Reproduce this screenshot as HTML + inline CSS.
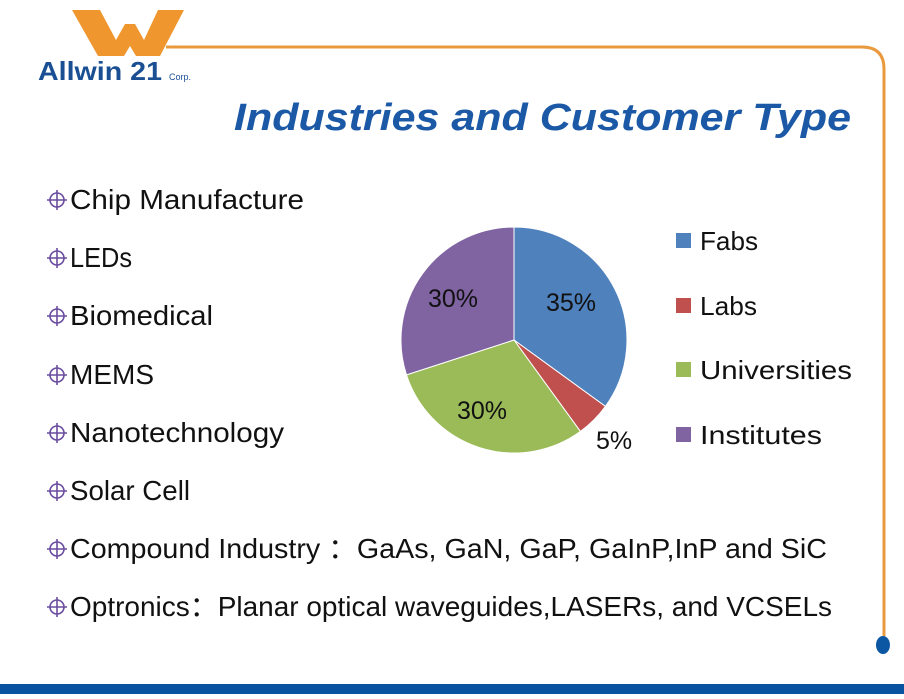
<!DOCTYPE html>
<html><head><meta charset="utf-8"><style>
body{margin:0;width:904px;height:694px;overflow:hidden;background:#fff;}
svg text{font-family:"Liberation Sans","Noto Sans CJK SC",sans-serif;}
</style></head><body>
<svg width="904" height="694" viewBox="0 0 904 694" xmlns="http://www.w3.org/2000/svg">
<polygon points="72,10 100,10 116,40 125,24 135,24 144,40 158,10 184,10 160,56 136,56 130,46 124,56 98,56" fill="#f0962e"/>
<text x="38" y="80" font-size="26" font-weight="bold" fill="#1b4f94" textLength="124" lengthAdjust="spacingAndGlyphs">Allwin 21</text>
<text x="169" y="80" font-size="9" fill="#1b4f94">Corp.</text>
<path d="M166,47 H862 Q884,47 884,69 V636" fill="none" stroke="#ea9a3e" stroke-width="3"/>
<ellipse cx="883" cy="645" rx="7" ry="9" fill="#0b57a4"/>
<rect x="0" y="684" width="904" height="10" fill="#0a53a0"/>
<text x="234" y="130" font-size="38" font-weight="bold" font-style="italic" fill="#1b58a6" textLength="617" lengthAdjust="spacingAndGlyphs">Industries and Customer Type</text>
<g font-size="28" fill="#111">
<text x="70" y="209" textLength="234" lengthAdjust="spacingAndGlyphs">Chip Manufacture</text>
<text x="70" y="267" textLength="62" lengthAdjust="spacingAndGlyphs">LEDs</text>
<text x="70" y="325" textLength="143" lengthAdjust="spacingAndGlyphs">Biomedical</text>
<text x="70" y="384" textLength="84" lengthAdjust="spacingAndGlyphs">MEMS</text>
<text x="70" y="442" textLength="214" lengthAdjust="spacingAndGlyphs">Nanotechnology</text>
<text x="70" y="500" textLength="120" lengthAdjust="spacingAndGlyphs">Solar Cell</text>
<text x="70" y="558" textLength="757" lengthAdjust="spacingAndGlyphs">Compound Industry ：GaAs, GaN, GaP, GaInP,InP and SiC</text>
<text x="70" y="616" textLength="762" lengthAdjust="spacingAndGlyphs">Optronics：Planar optical waveguides,LASERs, and VCSELs</text>
</g>
<g fill="none" stroke="#6a4ca0" stroke-width="1.6">
<g id="b"><circle cx="57" cy="200" r="7"/><line x1="47" y1="200" x2="67" y2="200"/><line x1="57" y1="190" x2="57" y2="210"/></g>
<use href="#b" y="58"/><use href="#b" y="116"/><use href="#b" y="175"/><use href="#b" y="233"/><use href="#b" y="291"/><use href="#b" y="349"/><use href="#b" y="407"/>
</g>
<g stroke="#fff" stroke-width="1">
<path d="M514,340 L514,227 A113,113 0 0 1 605.4,406.4 Z" fill="#4f81bd"/>
<path d="M514,340 L605.4,406.4 A113,113 0 0 1 580.4,431.4 Z" fill="#c0504d"/>
<path d="M514,340 L580.4,431.4 A113,113 0 0 1 406.5,374.9 Z" fill="#9bbb59"/>
<path d="M514,340 L406.5,374.9 A113,113 0 0 1 514,227 Z" fill="#8064a2"/>
</g>
<g font-size="25" fill="#111">
<text x="546" y="311">35%</text>
<text x="428" y="307">30%</text>
<text x="457" y="419">30%</text>
<text x="596" y="449">5%</text>
</g>
<rect x="676" y="233" width="15" height="15" fill="#4f81bd"/>
<rect x="676" y="298" width="15" height="15" fill="#c0504d"/>
<rect x="676" y="362" width="15" height="15" fill="#9bbb59"/>
<rect x="676" y="427" width="15" height="15" fill="#8064a2"/>
<g font-size="26" fill="#111">
<text x="700" y="250" textLength="58" lengthAdjust="spacingAndGlyphs">Fabs</text>
<text x="700" y="315" textLength="57" lengthAdjust="spacingAndGlyphs">Labs</text>
<text x="700" y="379" textLength="152" lengthAdjust="spacingAndGlyphs">Universities</text>
<text x="700" y="444" textLength="122" lengthAdjust="spacingAndGlyphs">Institutes</text>
</g>
</svg>
</body></html>
